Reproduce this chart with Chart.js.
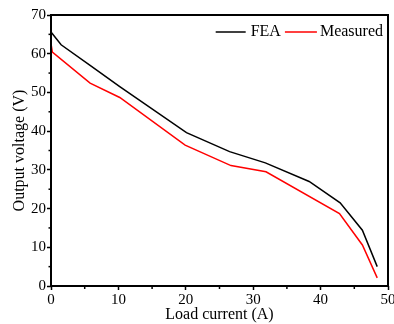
<!DOCTYPE html>
<html>
<head>
<meta charset="utf-8">
<script src="https://cdn.jsdelivr.net/npm/chart.js@4/dist/chart.umd.min.js"></script>
<style>
html,body{margin:0;padding:0;background:#fff;}
#wrap{width:394px;height:324px;}
</style>
</head>
<body>
<div id="wrap"><canvas id="c" width="394" height="324"></canvas></div>
<script>
const feaX = [0, 1.5, 5.8, 10.2, 20.1, 26.5, 31.8, 38.3, 42.9, 46.2, 48.4];
const feaY = [65.6, 62.3, 57.0, 51.5, 39.6, 34.7, 31.8, 27.0, 21.5, 14.4, 5.0];
const measX = [0, 0.2, 5.8, 10.2, 19.9, 26.7, 31.9, 42.8, 46.2, 48.4];
const measY = [62.6, 60.4, 52.4, 48.7, 36.4, 31.1, 29.5, 18.7, 10.6, 2.1];
const xTicks = [0, 10, 20, 30, 40, 50];
const yTicks = [0, 10, 20, 30, 40, 50, 60, 70];
const seriesNames = ['FEA', 'Measured'];
const seriesColors = ['#000000', '#ff0000'];

const FONT = '"Liberation Serif", "Times New Roman", serif';

function pts(xs, ys){ return xs.map((x,i)=>({x:x, y:ys[i]})); }

const frame = {
  id: 'frame',
  afterDraw(chart){
    const {ctx, chartArea:a, scales} = chart;
    ctx.save();
    ctx.strokeStyle = '#000';
    ctx.lineWidth = 1.5;
    for (let v = 5; v < 70; v += 10){
      const y = scales.y.getPixelForValue(v);
      ctx.beginPath(); ctx.moveTo(a.left - 2.5, y); ctx.lineTo(a.left, y); ctx.stroke();
    }
    for (let v = 5; v < 50; v += 10){
      const x = scales.x.getPixelForValue(v);
      ctx.beginPath(); ctx.moveTo(x, a.bottom); ctx.lineTo(x, a.bottom + 3); ctx.stroke();
    }
    ctx.lineWidth = 2;
    ctx.strokeRect(a.left, a.top, a.right - a.left, a.bottom - a.top);
    ctx.font = '16px ' + FONT;
    ctx.textBaseline = 'middle';
    ctx.textAlign = 'left';
    const ly = a.top + 17;
    const wM = ctx.measureText(seriesNames[1]).width;
    const wF = ctx.measureText(seriesNames[0]).width;
    const tM = a.right - 5 - wM;
    const l2e = tM - 3, l2s = l2e - 32;
    const tF = l2s - 4 - wF;
    const l1e = tF - 5, l1s = l1e - 30;
    ctx.lineWidth = 1.5;
    ctx.strokeStyle = seriesColors[0];
    ctx.beginPath(); ctx.moveTo(l1s, ly); ctx.lineTo(l1e, ly); ctx.stroke();
    ctx.strokeStyle = seriesColors[1];
    ctx.beginPath(); ctx.moveTo(l2s, ly); ctx.lineTo(l2e, ly); ctx.stroke();
    ctx.fillStyle = '#000';
    ctx.fillText(seriesNames[0], tF, ly);
    ctx.fillText(seriesNames[1], tM, ly);
    ctx.restore();
  }
};

new Chart(document.getElementById('c'), {
  type: 'line',
  data: {
    datasets: [
      {label: seriesNames[0], data: pts(feaX, feaY), borderColor: seriesColors[0], borderWidth: 1.5, pointRadius: 0, tension: 0, fill: false},
      {label: seriesNames[1], data: pts(measX, measY), borderColor: seriesColors[1], borderWidth: 1.5, pointRadius: 0, tension: 0, fill: false}
    ]
  },
  options: {
    responsive: false,
    animation: false,
    events: [],
    layout: {padding: {top: 15, right: 6, left: 0, bottom: 0}},
    plugins: {legend: {display: false}, tooltip: {enabled: false}},
    scales: {
      x: {
        type: 'linear', min: 0, max: 50,
        afterFit(s){ s.height = 38; s.paddingLeft = 0; s.paddingRight = 0; },
        afterBuildTicks(s){ s.ticks = xTicks.map(v=>({value:v})); },
        border: {display: false},
        grid: {drawOnChartArea: false, drawTicks: true, tickLength: 4, tickWidth: 1.5, color: '#000'},
        ticks: {color: '#000', font: {family: FONT, size: 15}, padding: 1, maxRotation: 0},
        title: {display: true, text: 'Load current (A)', color: '#000', font: {family: FONT, size: 16}, padding: {top: -2, bottom: 0}}
      },
      y: {
        type: 'linear', min: 0, max: 70,
        afterFit(s){ s.width = 51; s.paddingTop = 0; s.paddingBottom = 0; },
        afterBuildTicks(s){ s.ticks = yTicks.map(v=>({value:v})); },
        border: {display: false},
        grid: {drawOnChartArea: false, drawTicks: true, tickLength: 4, tickWidth: 1.5, color: '#000'},
        ticks: {color: '#000', font: {family: FONT, size: 15}, padding: 1},
        title: {display: true, text: 'Output voltage (V)', color: '#000', font: {family: FONT, size: 16}, padding: {top: 10, bottom: 0}}
      }
    }
  },
  plugins: [frame]
});
</script>
</body>
</html>
